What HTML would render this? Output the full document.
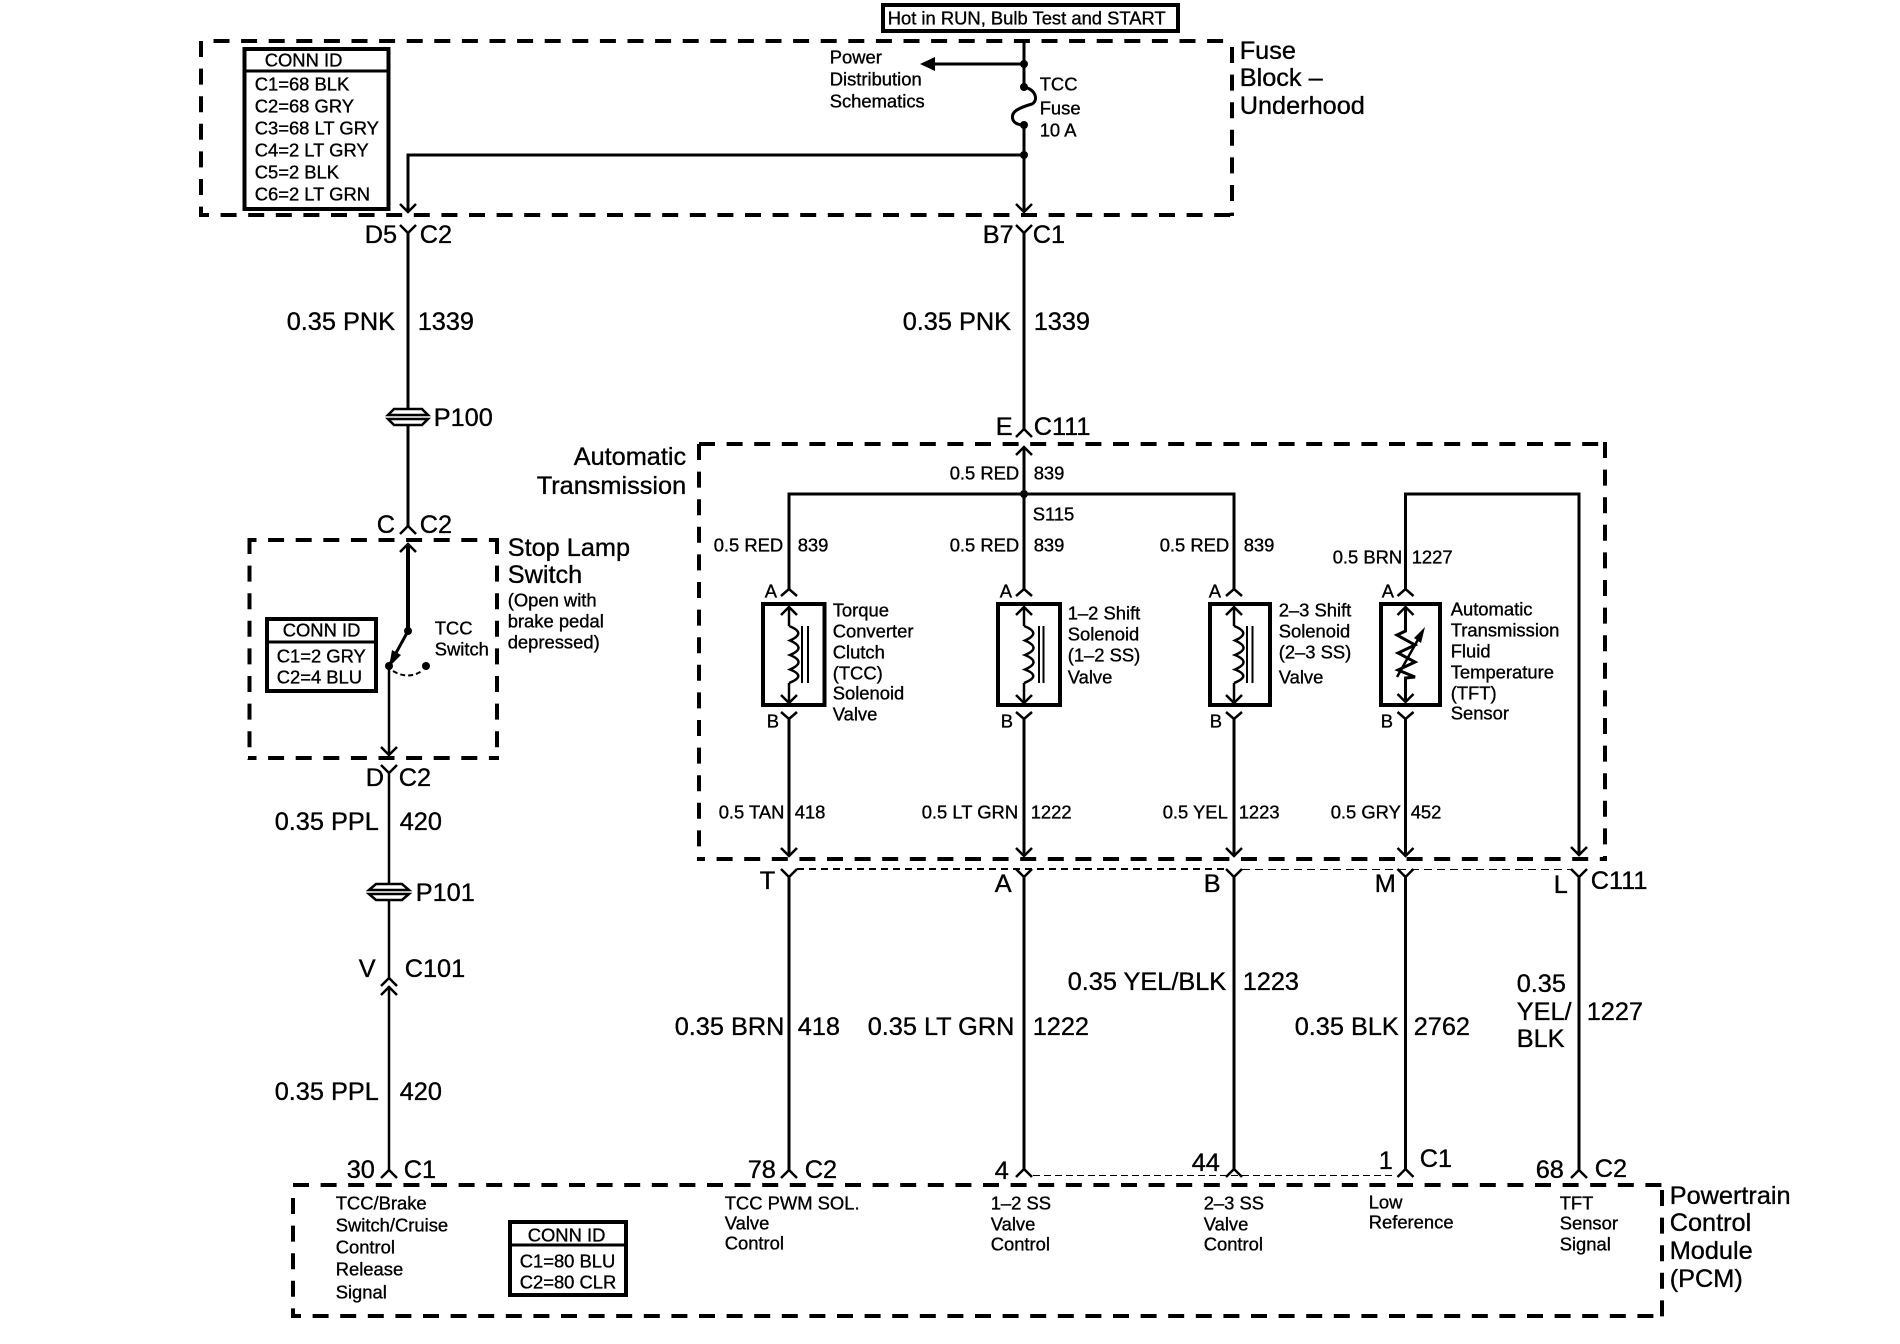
<!DOCTYPE html>
<html><head><meta charset="utf-8"><title>TCC wiring schematic</title>
<style>
html,body{margin:0;padding:0;background:#fff}
svg{display:block}
text{font-family:"Liberation Sans",sans-serif;fill:#000;stroke:#000;stroke-width:.35}
.s{font-size:18.4px}
.b{font-size:25.3px}
.w{fill:none;stroke:#000;stroke-width:3}
.t{fill:none;stroke:#000;stroke-width:2.5}
.d{fill:none;stroke:#000;stroke-width:4;stroke-dasharray:16 11.6}
.k{fill:none;stroke:#000;stroke-width:4}
.c{fill:none;stroke:#000;stroke-width:2.5}
</style></head><body>
<svg width="1900" height="1344" viewBox="0 0 1900 1344" xmlns="http://www.w3.org/2000/svg">
<rect width="1900" height="1344" fill="#fff"/>

<!-- Dashed boxes -->
<path class="d" d="M213.500 41H1230"/>
<path class="d" d="M201 41V215"/><path class="k" d="M199 215H209"/>
<path class="d" stroke-dashoffset="8" d="M201 215H1234"/>
<path class="d" d="M1232 47V216"/>

<path class="d" d="M699 444H1607"/>
<path class="d" d="M699 444V860"/>
<path class="d" stroke-dashoffset="8" d="M697 859H1607"/>
<path class="d" d="M1605 442V861"/>

<path class="d" stroke-dashoffset="7.500" d="M248 540H499"/>
<path class="d" d="M249.500 538V760"/>
<path class="d" stroke-dashoffset="7.500" d="M248 758H499"/>
<path class="d" d="M497 538V760"/>

<path class="d" d="M293 1185H1664"/>
<path class="d" d="M293 1198V1317"/>
<path class="d" stroke-dashoffset="6" d="M291 1316H1664"/>
<path class="d" d="M1662 1190V1318"/>

<!-- Label boxes -->
<rect class="k" x="883" y="5" width="295" height="26"/>
<rect class="k" x="244.500" y="49" width="144" height="160"/>
<path class="w" d="M243 71H390"/>
<rect class="k" x="267" y="619" width="109" height="72"/>
<path class="w" d="M265 642H378"/>
<rect class="k" x="510" y="1222" width="116" height="73"/>
<path class="w" d="M509 1245H627"/>

<!-- Fuse block wiring -->
<path class="w" d="M1024 41V87M1024 125V210"/>
<path class="w" d="M1024 64H935"/>
<polygon points="920,64 935,57 935,71" fill="#000"/>
<path class="w" d="M1024 87C1037 90 1038 101 1032 104C1018 108 1010 112 1013 120C1015 124 1019 125 1024 125"/>
<circle cx="1024" cy="64" r="4"/><circle cx="1024" cy="87" r="4"/><circle cx="1024" cy="125" r="4"/><circle cx="1024" cy="155" r="4"/>
<path class="w" d="M1024 155H408V210"/>
<path class="c" d="M400 204L408 212L416 204M1016 204L1024 212L1032 204"/>

<!-- Left column -->
<path class="c" d="M400 225L408 233L416 225M1016 225L1024 233L1032 225"/>
<path class="w" d="M408 233V409M408 425V526M1024 233V429"/>
<path class="c" d="M400 534L408 526L416 534M1016 437L1024 429L1032 437"/>
<path class="c" d="M388 415L394 409H422L428 415ZM388 419L394 425H422L428 419Z"/>

<path class="c" d="M400 552L408 544L416 552"/>
<path class="k" d="M408 544V631"/>
<path class="w" d="M408 631L390 664"/>
<polygon points="389,667 392,650 401,655" fill="#000"/>
<circle cx="408" cy="631" r="4"/><circle cx="389" cy="666" r="4"/><circle cx="426" cy="666" r="4"/>
<path d="M393 671Q408 680 422 671" fill="none" stroke="#000" stroke-width="2" stroke-dasharray="5 3"/>
<path class="t" d="M389 666V755"/>
<path class="c" d="M381 747L389 755L397 747"/>
<path class="c" d="M381 765L389 773L397 765"/>
<path class="t" d="M389 773V884M389 900V978M389 986V1170"/>
<path class="c" d="M369 890L376 884H402L409 890ZM369 894L376 900H402L409 894Z"/>
<path class="c" d="M381 986L389 978L397 986M381 995L389 987L397 995"/>
<path class="c" d="M381 1178L389 1170L397 1178"/>

<!-- Automatic transmission wiring -->
<path class="w" d="M1024 447V589"/>
<path class="c" d="M1016 455L1024 447L1032 455"/>
<path class="w" d="M789 589V494H1234V589"/>
<path class="w" d="M1405.500 589V494H1579V854"/>
<circle cx="1024" cy="494" r="4"/>
<path class="c" d="M781 596L789 589L797 596M1016 596L1024 589L1032 596M1226 596L1234 589L1242 596M1397.500 596L1405.500 589L1413.500 596"/>

<!-- Device boxes -->
<rect class="k" x="763" y="604" width="61.500" height="101"/>
<rect class="k" x="998" y="604" width="62" height="101"/>
<rect class="k" x="1210" y="604" width="60" height="101"/>
<rect class="k" x="1381" y="604" width="59" height="101"/>

<!-- Solenoids -->
<g>
<path class="c" d="M781 615L789 607L797 615"/>
<path class="t" d="M789 607V626"/>
<path class="t" d="M789 626Q807 633 790 640.500Q807 648 790 655Q807 662 790 669.500Q807 676 789 683"/>
<path class="t" d="M789 683V703"/>
<path class="c" d="M781 695L789 703L797 695"/>
<path d="M802 626V683M808 626V683" fill="none" stroke="#000" stroke-width="2"/>
</g>
<g><path class="c" d="M1016 615L1024 607L1032 615"/>
<path class="t" d="M1024 607V626"/>
<path class="t" d="M1024 626Q1042 633 1025 640.500Q1042 648 1025 655Q1042 662 1025 669.500Q1042 676 1024 683"/>
<path class="t" d="M1024 683V703"/>
<path class="c" d="M1016 695L1024 703L1032 695"/>
<path d="M1039 626V683M1043.500 626V683" fill="none" stroke="#000" stroke-width="2"/></g>
<g><path class="c" d="M1226 615L1234 607L1242 615"/>
<path class="t" d="M1234 607V626"/>
<path class="t" d="M1234 626Q1252 633 1235 640.500Q1252 648 1235 655Q1252 662 1235 669.500Q1252 676 1234 683"/>
<path class="t" d="M1234 683V703"/>
<path class="c" d="M1226 695L1234 703L1242 695"/>
<path d="M1247 626V683M1252.500 626V683" fill="none" stroke="#000" stroke-width="2"/></g>
<!-- TFT resistor -->
<path class="c" d="M1397.500 615L1405.500 607L1413.500 615"/>
<path class="w" d="M1405.500 607V631L1397 635L1415 645L1398 653L1415 662L1398 670L1415 677L1405.500 678V702"/>
<path class="c" d="M1397.500 694L1405.500 702L1413.500 694"/>
<path class="t" d="M1397 677L1420 636"/>
<polygon points="1425,627 1414,638 1421,643" fill="#000"/>

<!-- Below devices -->
<path class="c" d="M781 712L789 719L797 712M1016 712L1024 719L1032 712M1226 712L1234 719L1242 712M1397.500 712L1405.500 719L1413.500 712"/>
<path class="w" d="M789 719V856M1024 719V856M1234 719V856M1405.500 719V856"/>
<path class="c" d="M781 848L789 856L797 848M1016 848L1024 856L1032 848M1226 848L1234 856L1242 848M1397.500 848L1405.500 856L1413.500 848M1571 847L1579 855L1587 847"/>

<!-- Below C111 -->
<path class="c" d="M781 869L789 877L797 869M1016 869L1024 877L1032 869M1226 869L1234 877L1242 869M1397.500 869L1405.500 877L1413.500 869M1571 869L1579 877L1587 869"/>
<path d="M797 869H1226" fill="none" stroke="#000" stroke-width="2" stroke-dasharray="7 5"/>
<path d="M1242 869.500H1571" fill="none" stroke="#000" stroke-width="1" stroke-dasharray="8 5"/>
<path class="w" d="M789 877V1170M1024 877V1169M1234 877V1169M1405.500 877V1169M1579 877V1170"/>
<path class="c" d="M781 1178L789 1170L797 1178M1016 1177L1024 1169L1032 1177M1226 1177L1234 1169L1242 1177M1397.500 1177L1405.500 1169L1413.500 1177M1571 1178L1579 1170L1587 1178"/>
<path d="M1033 1175.500H1396" fill="none" stroke="#000" stroke-width="1" stroke-dasharray="7 4"/>

<g transform="translate(-0.3,-0.2)">
<!-- Text: fuse block -->
<text class="s" x="888" y="24.500">Hot in RUN, Bulb Test and START</text>
<text class="s" x="265" y="66.500">CONN ID</text>
<text class="s" x="255" y="90.500">C1=68 BLK</text>
<text class="s" x="255" y="112.500">C2=68 GRY</text>
<text class="s" x="255" y="134.500">C3=68 LT GRY</text>
<text class="s" x="255" y="156.500">C4=2 LT GRY</text>
<text class="s" x="255" y="178.500">C5=2 BLK</text>
<text class="s" x="255" y="200.500">C6=2 LT GRN</text>
<text class="s" x="830" y="63.500">Power</text>
<text class="s" x="830" y="85.500">Distribution</text>
<text class="s" x="830" y="107.500">Schematics</text>
<text class="s" x="1040" y="90.500">TCC</text>
<text class="s" x="1040" y="114.500">Fuse</text>
<text class="s" x="1040" y="136.500">10 A</text>
<text class="b" x="1240" y="59">Fuse</text>
<text class="b" x="1240" y="86">Block –</text>
<text class="b" x="1240" y="114">Underhood</text>

<text class="b" x="365" y="243">D5</text><text class="b" x="420" y="243">C2</text>
<text class="b" x="983" y="243">B7</text><text class="b" x="1033" y="243">C1</text>
<text class="b" x="287" y="330">0.35 PNK</text><text class="b" x="418" y="330">1339</text>
<text class="b" x="903" y="330">0.35 PNK</text><text class="b" x="1034" y="330">1339</text>
<text class="b" x="434" y="426">P100</text>
<text class="b" x="996" y="435">E</text><text class="b" x="1034" y="435">C111</text>
<text class="b" x="574" y="465">Automatic</text>
<text class="b" x="537" y="494">Transmission</text>

<!-- Stop lamp -->
<text class="b" x="377" y="533">C</text><text class="b" x="420" y="533">C2</text>
<text class="b" x="508" y="556">Stop Lamp</text>
<text class="b" x="508" y="583">Switch</text>
<text class="s" x="508" y="606.500">(Open with</text>
<text class="s" x="508" y="627.500">brake pedal</text>
<text class="s" x="508" y="648.500">depressed)</text>
<text class="s" x="283" y="636.500">CONN ID</text>
<text class="s" x="277" y="662.500">C1=2 GRY</text>
<text class="s" x="277" y="683.500">C2=4 BLU</text>
<text class="s" x="435" y="634.500">TCC</text>
<text class="s" x="435" y="655.500">Switch</text>
<text class="b" x="366" y="786">D</text><text class="b" x="399" y="786">C2</text>
<text class="b" x="275" y="830">0.35 PPL</text><text class="b" x="400" y="830">420</text>
<text class="b" x="416" y="901">P101</text>
<text class="b" x="359" y="977">V</text><text class="b" x="405" y="977">C101</text>
<text class="b" x="275" y="1100">0.35 PPL</text><text class="b" x="400" y="1100">420</text>

<!-- Transmission labels -->
<text class="s" x="950" y="479.500">0.5 RED</text><text class="s" x="1034" y="479.500">839</text>
<text class="s" x="1033" y="520.500">S115</text>
<text class="s" x="714" y="551.500">0.5 RED</text><text class="s" x="798" y="551.500">839</text>
<text class="s" x="950" y="551.500">0.5 RED</text><text class="s" x="1034" y="551.500">839</text>
<text class="s" x="1160" y="551.500">0.5 RED</text><text class="s" x="1244" y="551.500">839</text>
<text class="s" x="1333" y="563.500">0.5 BRN</text><text class="s" x="1412" y="563.500">1227</text>

<text class="s" x="765" y="597.500">A</text><text class="s" x="767" y="727.500">B</text>
<text class="s" x="1000" y="597.500">A</text><text class="s" x="1001" y="727.500">B</text>
<text class="s" x="1209" y="597.500">A</text><text class="s" x="1210" y="727.500">B</text>
<text class="s" x="1382" y="597.500">A</text><text class="s" x="1381" y="727.500">B</text>

<text class="s" x="833" y="616.500">Torque</text>
<text class="s" x="833" y="637.500">Converter</text>
<text class="s" x="833" y="658.500">Clutch</text>
<text class="s" x="833" y="679.500">(TCC)</text>
<text class="s" x="833" y="699.500">Solenoid</text>
<text class="s" x="833" y="720.500">Valve</text>

<text class="s" x="1068" y="619.500">1–2 Shift</text>
<text class="s" x="1068" y="640.500">Solenoid</text>
<text class="s" x="1068" y="661.500">(1–2 SS)</text>
<text class="s" x="1068" y="683.500">Valve</text>

<text class="s" x="1279" y="616.500">2–3 Shift</text>
<text class="s" x="1279" y="637.500">Solenoid</text>
<text class="s" x="1279" y="658.500">(2–3 SS)</text>
<text class="s" x="1279" y="683.500">Valve</text>

<text class="s" x="1451" y="615.500">Automatic</text>
<text class="s" x="1451" y="636.500">Transmission</text>
<text class="s" x="1451" y="657.500">Fluid</text>
<text class="s" x="1451" y="678.500">Temperature</text>
<text class="s" x="1451" y="699.500">(TFT)</text>
<text class="s" x="1451" y="719.500">Sensor</text>

<text class="s" x="719" y="818.500">0.5 TAN</text><text class="s" x="795" y="818.500">418</text>
<text class="s" x="922" y="818.500">0.5 LT GRN</text><text class="s" x="1031" y="818.500">1222</text>
<text class="s" x="1163" y="818.500">0.5 YEL</text><text class="s" x="1239" y="818.500">1223</text>
<text class="s" x="1331" y="818.500">0.5 GRY</text><text class="s" x="1411" y="818.500">452</text>

<text class="b" x="760" y="889">T</text>
<text class="b" x="995" y="892">A</text>
<text class="b" x="1204" y="892">B</text>
<text class="b" x="1375" y="892">M</text>
<text class="b" x="1554" y="893">L</text>
<text class="b" x="1591" y="889">C111</text>

<text class="b" x="1068" y="990">0.35 YEL/BLK</text><text class="b" x="1243" y="990">1223</text>
<text class="b" x="675" y="1035">0.35 BRN</text><text class="b" x="798" y="1035">418</text>
<text class="b" x="868" y="1035">0.35 LT GRN</text><text class="b" x="1033" y="1035">1222</text>
<text class="b" x="1295" y="1035">0.35 BLK</text><text class="b" x="1414" y="1035">2762</text>
<text class="b" x="1517" y="992">0.35</text>
<text class="b" x="1517" y="1020">YEL/</text>
<text class="b" x="1517" y="1047">BLK</text>
<text class="b" x="1587" y="1020">1227</text>

<!-- PCM pins -->
<text class="b" x="347" y="1178">30</text><text class="b" x="404" y="1178">C1</text>
<text class="b" x="748" y="1178">78</text><text class="b" x="805" y="1178">C2</text>
<text class="b" x="995" y="1179">4</text>
<text class="b" x="1192" y="1171">44</text>
<text class="b" x="1379" y="1169">1</text><text class="b" x="1420" y="1167">C1</text>
<text class="b" x="1536" y="1178">68</text><text class="b" x="1595" y="1177">C2</text>

<text class="s" x="336" y="1209.500">TCC/Brake</text>
<text class="s" x="336" y="1231.500">Switch/Cruise</text>
<text class="s" x="336" y="1253.500">Control</text>
<text class="s" x="336" y="1275.500">Release</text>
<text class="s" x="336" y="1298.500">Signal</text>
<text class="s" x="528" y="1241.500">CONN ID</text>
<text class="s" x="520" y="1267.500">C1=80 BLU</text>
<text class="s" x="520" y="1288.500">C2=80 CLR</text>
<text class="s" x="725" y="1209.500">TCC PWM SOL.</text>
<text class="s" x="725" y="1229.500">Valve</text>
<text class="s" x="725" y="1249.500">Control</text>
<text class="s" x="991" y="1209.500">1–2 SS</text>
<text class="s" x="991" y="1230.500">Valve</text>
<text class="s" x="991" y="1250.500">Control</text>
<text class="s" x="1204" y="1209.500">2–3 SS</text>
<text class="s" x="1204" y="1230.500">Valve</text>
<text class="s" x="1204" y="1250.500">Control</text>
<text class="s" x="1369" y="1208.500">Low</text>
<text class="s" x="1369" y="1228.500">Reference</text>
<text class="s" x="1560" y="1209.500">TFT</text>
<text class="s" x="1560" y="1229.500">Sensor</text>
<text class="s" x="1560" y="1250.500">Signal</text>
<text class="b" x="1670" y="1204">Powertrain</text>
<text class="b" x="1670" y="1231">Control</text>
<text class="b" x="1670" y="1259">Module</text>
<text class="b" x="1670" y="1287">(PCM)</text>
</g>
</svg>
</body></html>
